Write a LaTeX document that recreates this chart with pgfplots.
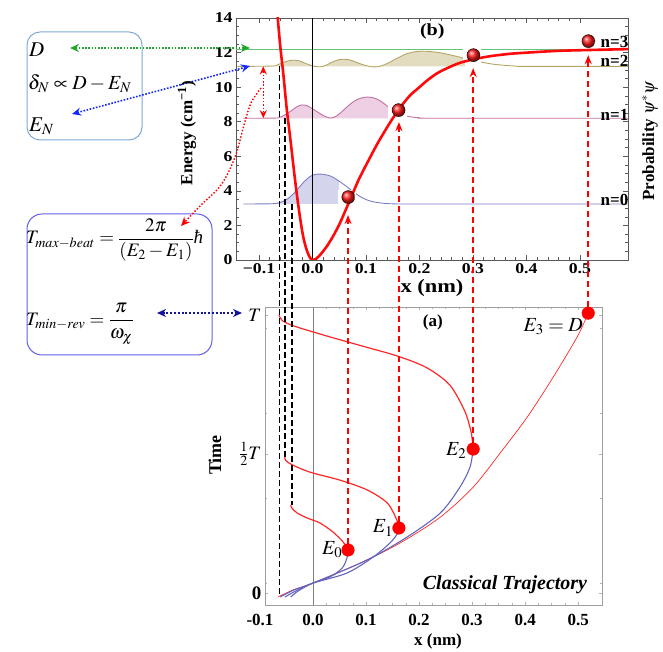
\documentclass[border=0pt]{standalone}
\usepackage{mathptmx}
\usepackage{fontspec}
\setmainfont{Liberation Serif}
\newfontfamily\widefont[FakeStretch=1.18]{Liberation Serif}
\usepackage{pgfplots}
\pgfplotsset{compat=1.18}
\usetikzlibrary{arrows.meta}
\newcommand\fs[1]{\fontsize{#1}{#1}\selectfont}
\definecolor{potred}{RGB}{255,10,10}
\definecolor{wfa}{RGB}{125,125,200}
\definecolor{wfaf}{RGB}{212,212,236}
\definecolor{wfb}{RGB}{195,110,165}
\definecolor{wfbf}{RGB}{238,208,228}
\definecolor{wfc}{RGB}{180,165,100}
\definecolor{wfcf}{RGB}{226,221,192}
\definecolor{grn}{RGB}{100,195,120}
\definecolor{grnarr}{RGB}{30,170,40}
\definecolor{trajblue}{RGB}{100,100,190}
\definecolor{trajred}{RGB}{255,40,40}
\definecolor{boxa}{RGB}{125,170,215}
\definecolor{boxb}{RGB}{95,95,240}
\definecolor{navy}{RGB}{20,20,160}
\definecolor{arrblue}{RGB}{20,40,255}
\begin{document}
\begin{tikzpicture}
\useasboundingbox (0,0) rectangle (663pt,651pt);
% ================= TOP AXIS (b) =================
\begin{axis}[
  at={(236pt,391pt)}, anchor=south west, scale only axis,
  width=392pt, height=242pt,
  xmin=-0.143, xmax=0.59, ymin=0, ymax=14,
  clip mode=individual,
  axis line style={draw=gray!70!black, line width=0.6pt},
  tick align=inside, tick pos=both,
  major tick length=5pt, minor tick length=3pt,
  tick style={gray!70!black, line width=0.5pt},
  xtick={-0.1,0,0.1,0.2,0.3,0.4,0.5},
  xticklabels={−0.1,0.0,0.1,0.2,0.3,0.4,0.5},
  ytick={0,2,4,6,8,10,12,14},
  yticklabels={0,2,4,6,8,10,12,14},
  minor x tick num=4, minor y tick num=3,
  ticklabel style={font=\widefont\bfseries\fs{15}},
]
% fills
\addplot[fill=wfaf, draw=none] coordinates {(-0.065,3.24) (-0.065,3.29) (-0.055,3.40) (-0.045,3.57) (-0.035,3.85) (-0.025,4.20) (-0.015,4.55) (-0.005,4.82) (0.005,4.95) (0.015,4.97) (0.025,4.93) (0.035,4.84) (0.045,4.66) (0.05,4.56) (0.05,3.24)};
\addplot[fill=wfbf, draw=none] coordinates {(-0.06,8.2) (-0.06,8.27) (-0.05,8.42) (-0.04,8.62) (-0.03,8.85) (-0.02,8.97) (-0.01,8.92) (0.0,8.75) (0.01,8.55) (0.02,8.36) (0.03,8.23) (0.035,8.21) (0.045,8.33) (0.055,8.58) (0.065,8.87) (0.075,9.12) (0.085,9.30) (0.095,9.40) (0.105,9.42) (0.115,9.37) (0.125,9.24) (0.135,9.02) (0.145,8.78) (0.15,8.68) (0.15,8.2)};
\addplot[fill=wfcf, draw=none] coordinates {(-0.065,11.2) (-0.065,11.3) (-0.055,11.42) (-0.045,11.52) (-0.035,11.56) (-0.025,11.52) (-0.015,11.40) (-0.005,11.28) (0.005,11.2) (0.015,11.18) (0.025,11.26) (0.035,11.42) (0.045,11.55) (0.055,11.61) (0.065,11.6) (0.075,11.52) (0.085,11.4) (0.095,11.29) (0.105,11.21) (0.115,11.17) (0.125,11.2) (0.135,11.3) (0.145,11.45) (0.16,11.7) (0.175,11.92) (0.19,12.04) (0.205,12.08) (0.22,12.06) (0.24,11.98) (0.26,11.85) (0.28,11.7) (0.285,11.66) (0.285,11.2)};
% probability lines
\addplot[wfa, line width=0.9pt, smooth] coordinates {(-0.129,3.24) (-0.08,3.25) (-0.065,3.29) (-0.055,3.40) (-0.045,3.57) (-0.035,3.85) (-0.025,4.20) (-0.015,4.55) (-0.005,4.82) (0.005,4.95) (0.015,4.97) (0.025,4.93) (0.035,4.84) (0.045,4.66) (0.055,4.45) (0.065,4.22) (0.075,3.98) (0.085,3.75) (0.095,3.57) (0.105,3.44) (0.115,3.36) (0.13,3.29) (0.15,3.25) (0.2,3.24) (0.59,3.24)};
\addplot[wfb, line width=0.9pt, smooth] coordinates {(-0.129,8.2) (-0.07,8.21) (-0.06,8.27) (-0.05,8.42) (-0.04,8.62) (-0.03,8.85) (-0.02,8.97) (-0.01,8.92) (0.0,8.75) (0.01,8.55) (0.02,8.36) (0.03,8.23) (0.035,8.21) (0.045,8.33) (0.055,8.58) (0.065,8.87) (0.075,9.12) (0.085,9.30) (0.095,9.40) (0.105,9.42) (0.115,9.37) (0.125,9.24) (0.135,9.02) (0.145,8.78) (0.155,8.58) (0.165,8.44) (0.18,8.3) (0.2,8.23) (0.23,8.2) (0.59,8.2)};
\addplot[wfc, line width=0.9pt, smooth] coordinates {(-0.14,11.2) (-0.075,11.22) (-0.065,11.3) (-0.055,11.42) (-0.045,11.52) (-0.035,11.56) (-0.025,11.52) (-0.015,11.40) (-0.005,11.28) (0.005,11.2) (0.015,11.18) (0.025,11.26) (0.035,11.42) (0.045,11.55) (0.055,11.61) (0.065,11.6) (0.075,11.52) (0.085,11.4) (0.095,11.29) (0.105,11.21) (0.115,11.17) (0.125,11.2) (0.135,11.3) (0.145,11.45) (0.16,11.7) (0.175,11.92) (0.19,12.04) (0.205,12.08) (0.22,12.06) (0.24,11.98) (0.26,11.85) (0.28,11.7) (0.30,11.55) (0.32,11.42) (0.34,11.32) (0.36,11.26) (0.38,11.22) (0.40,11.2) (0.59,11.2)};
% dissociation energy line
\addplot[grn, line width=1pt] coordinates {(-0.143,12.2) (0.59,12.2)};
% zero line
\addplot[black, line width=0.6pt] coordinates {(0,0) (0,14)};
% white backgrounds of the balls
\addplot[only marks, mark=square*, mark size=7pt, white, mark options={xscale=1.25, draw=white}] coordinates {(0.064,3.64) (0.158,8.67) (0.298,11.85) (0.513,12.66)};
% Morse potential
\addplot[potred, line width=2.6pt, smooth] coordinates {(-0.068,15.0) (-0.065,14.0) (-0.06,12.3) (-0.054,10.6) (-0.048,8.7) (-0.041,6.9) (-0.034,5.0) (-0.028,3.5) (-0.022,2.2) (-0.017,1.3) (-0.011,0.6) (-0.005,0.15) (0,0) (0.007,0.08) (0.015,0.32) (0.027,0.8) (0.039,1.4) (0.05,2.05) (0.058,2.6) (0.067,3.25) (0.076,3.9) (0.086,4.62) (0.097,5.3) (0.108,5.95) (0.12,6.65) (0.133,7.34) (0.146,8.0) (0.159,8.6) (0.171,9.1) (0.183,9.54) (0.2,10.0) (0.215,10.4) (0.233,10.8) (0.252,11.1) (0.275,11.4) (0.3,11.6) (0.33,11.78) (0.37,11.93) (0.413,12.02) (0.46,12.1) (0.52,12.15) (0.59,12.2)};
% balls
\addplot[only marks, mark=ball, mark size=6.5pt, mark options={ball color=red!90!white}] coordinates {(0.067,3.64) (0.161,8.67) (0.301,11.85) (0.516,12.66)};
\node[font=\bfseries\fs{17}, anchor=east, inner sep=0.5pt] at (axis cs:0.592,12.62) {n=3};
\node[font=\bfseries\fs{17}, anchor=east, inner sep=0.5pt] at (axis cs:0.592,11.52) {n=2};
\node[font=\bfseries\fs{17}, anchor=east, inner sep=0.5pt] at (axis cs:0.592,8.42) {n=1};
\node[font=\bfseries\fs{17}, anchor=east, inner sep=0.5pt] at (axis cs:0.592,3.47) {n=0};
\node[font=\widefont\bfseries\fs{17}] at (axis cs:0.224,13.2) {(b)};
\coordinate (t0) at (axis cs:0.067,2.6);
\coordinate (t1) at (axis cs:0.161,7.98);
\coordinate (t2) at (axis cs:0.301,11.1);
\coordinate (t3) at (axis cs:0.516,11.85);
\coordinate (k2) at (axis cs:-0.0615,11.2);
\coordinate (k1) at (axis cs:-0.052,8.2);
\coordinate (k0) at (axis cs:-0.039,3.24);
\coordinate (ra) at (axis cs:-0.092,11.2);
\coordinate (rb) at (axis cs:-0.092,8.2);
\end{axis}
% ================= BOTTOM AXIS (a) =================
\begin{axis}[
  at={(265pt,46pt)}, anchor=south west, scale only axis,
  width=337pt, height=298pt,
  xmin=-0.0906, xmax=0.545, ymin=-0.043, ymax=1.029,
  clip mode=individual,
  axis line style={draw=gray!75, line width=0.9pt},
  tick align=inside, tick pos=both,
  major tick length=3pt, minor tick length=2pt,
  tick style={gray!60, line width=0.5pt},
  xtick={0,0.1,0.2,0.3,0.4,0.5},
  xticklabels={0.0,0.1,0.2,0.3,0.4,0.5},
  minor x tick num=3,
  ytick={0,0.5,1},
  yticklabels={\textbf{0},{$\frac{1}{2}T$},{$T$}},
  minor ytick={0.036,0.342,0.647,0.953},
  xticklabel style={font=\bfseries\fs{17}, yshift=-6pt},
  yticklabel style={font=\bfseries\fs{19}},
]
\addplot[gray, line width=0.7pt] coordinates {(0,-0.043) (0,1.029)};
% thin E3 trajectory
\addplot[trajred, line width=0.7pt, smooth] coordinates {(-0.066,-0.014) (-0.038,0.011) (0,0.036) (0.089,0.108) (0.164,0.18) (0.240,0.273) (0.302,0.381) (0.353,0.504) (0.404,0.633) (0.453,0.777) (0.498,0.921) (0.519,1.007)};
% blue (outgoing) trajectories
\addplot[trajblue, line width=1.1pt, smooth] coordinates {(-0.042,-0.014) (-0.03,0.005) (-0.015,0.022) (0,0.036) (0.032,0.058) (0.055,0.09) (0.064,0.126) (0.066,0.155)};
\addplot[trajblue, line width=1.1pt, smooth] coordinates {(-0.053,-0.014) (-0.03,0.010) (0,0.036) (0.064,0.072) (0.113,0.129) (0.145,0.18) (0.160,0.216) (0.162,0.234)};
\addplot[trajblue, line width=1.1pt, smooth] coordinates {(-0.062,-0.014) (-0.035,0.012) (0,0.036) (0.102,0.119) (0.177,0.201) (0.240,0.288) (0.277,0.381) (0.296,0.453) (0.302,0.518)};
% red (returning) trajectories
\addplot[trajred, line width=1.2pt, smooth] coordinates {(0.066,0.155) (0.057,0.183) (0.038,0.219) (0.013,0.252) (-0.011,0.27) (-0.030,0.288) (-0.040,0.306) (-0.042,0.317)};
\addplot[trajred, line width=1.2pt, smooth] coordinates {(0.162,0.234) (0.158,0.263) (0.140,0.324) (0.102,0.371) (0.051,0.406) (-0.006,0.435) (-0.040,0.462) (-0.052,0.478) (-0.053,0.489)};
\addplot[trajred, line width=1.2pt, smooth] coordinates {(0.302,0.518) (0.298,0.58) (0.286,0.655) (0.258,0.748) (0.215,0.81) (0.16,0.852) (0.090,0.89) (0.02,0.928) (-0.035,0.96) (-0.058,0.98) (-0.064,1.0)};
% dots
\addplot[only marks, mark=*, mark size=6.3pt, red, mark options={draw=red}] coordinates {(0.066,0.155) (0.162,0.234) (0.302,0.518) (0.519,1.007)};
\node[font=\fs{20}] at (axis cs:0.036,0.155) {$E_0$};
\node[font=\fs{20}] at (axis cs:0.132,0.234) {$E_1$};
\node[font=\fs{20}] at (axis cs:0.27,0.514) {$E_2$};
\node[font=\fs{20}] at (axis cs:0.453,0.957) {$E_3=D$};
\node[font=\bfseries\fs{17}] at (axis cs:0.226,0.975) {(a)};
\node[font=\bfseries\itshape\fs{20}] at (axis cs:0.362,0.029) {Classical Trajectory};
\node[anchor=north, font=\bfseries\fs{17}, yshift=-6pt] at (axis cs:-0.1,-0.043) {-0.1};
\coordinate (b0) at (axis cs:0.066,0.155);
\coordinate (b1) at (axis cs:0.162,0.234);
\coordinate (b2) at (axis cs:0.302,0.518);
\coordinate (b3) at (axis cs:0.519,1.007);
\coordinate (m2) at (axis cs:-0.064,-0.014);
\coordinate (m1) at (axis cs:-0.053,0.489);
\coordinate (m0) at (axis cs:-0.042,0.317);
\end{axis}
% ================= connectors =================
\foreach \b/\t in {b0/t0,b1/t1,b2/t2,b3/t3}{
  \draw[red, line width=1.5pt, dash pattern=on 6pt off 4pt, -{Stealth[length=9pt,width=7pt]}] ([yshift=6pt]\b) -- (\b |- \t);
}
\draw[black, line width=1.8pt, dash pattern=on 6pt off 3pt] (k2) -- (k2 |- m2);
\draw[black, line width=1.8pt, dash pattern=on 6pt off 3pt] (k1) -- (k1 |- m1);
\draw[black, line width=1.8pt, dash pattern=on 6pt off 3pt] (k0) -- (k0 |- m0);
\draw[red, line width=1.4pt, dash pattern=on 1.5pt off 1.8pt, {Stealth[length=8pt,width=7pt]}-{Stealth[length=8pt,width=7pt]}] (ra) -- (rb);
% ================= annotations (pixel frame) =================
\begin{scope}[yshift=651pt, x=1pt, y=-1pt]
\draw[boxa, line width=1pt, rounded corners=13pt] (27,32) rectangle (142,140);
\draw[boxb, line width=1pt, rounded corners=15pt] (27,214) rectangle (212,355);
\node[font=\fs{21}, anchor=west, inner sep=0pt] at (29,50) {$D$};
\node[font=\fs{20}, anchor=west, inner sep=0pt] at (28,84) {$\delta_N \propto D - E_N$};
\node[font=\fs{21}, anchor=west, inner sep=0pt] at (29,126) {$E_N$};
\node[font=\fs{19}, anchor=west, inner sep=0pt] at (26,240) {$T_{max-beat}={\displaystyle\frac{2\pi}{(E_2-E_1)}}\mbox{\itshape ħ}$};
\node[font=\fs{19}, anchor=west, inner sep=0pt] at (26,324) {$T_{min-rev}={\displaystyle\frac{\pi}{\omega_\chi}}$};
% dotted arrows
\draw[grnarr, line width=1.6pt, dash pattern=on 1.6pt off 1.6pt, {Stealth[length=9pt,width=8pt]}-{Stealth[length=9pt,width=8pt]}] (70,48) -- (250,48);
\draw[arrblue, line width=1.6pt, dash pattern=on 1.6pt off 1.6pt, {Stealth[length=9pt,width=8pt]}-{Stealth[length=9pt,width=8pt]}] (72,114) -- (250,66);
\draw[navy, line width=2pt, dash pattern=on 2pt off 1.8pt, {Stealth[length=9pt,width=8pt]}-{Stealth[length=9pt,width=8pt]}] (157,313) -- (242,313);
\draw[red, line width=1.4pt, dash pattern=on 1.5pt off 1.8pt, -{Stealth[length=9pt,width=8pt]}] plot[smooth, tension=0.6] coordinates {(261,88) (251,103) (244,125) (235,157) (221,185) (201,205) (181,226)};
% axis titles
\node[rotate=90, font=\bfseries\fs{17}] at (187,133) {Energy (cm\textsuperscript{−1})};
\node[rotate=90, font=\bfseries\fs{17}] at (650,141) {Probability $\psi^{*}\psi$};
\node[font=\widefont\bfseries\fs{19}] at (432,288) {x (nm)};
\node[font=\bfseries\fs{17}] at (438,641) {x (nm)};
\node[rotate=90, font=\bfseries\fs{18}] at (215,455) {Time};
\end{scope}
\end{tikzpicture}
\end{document}
